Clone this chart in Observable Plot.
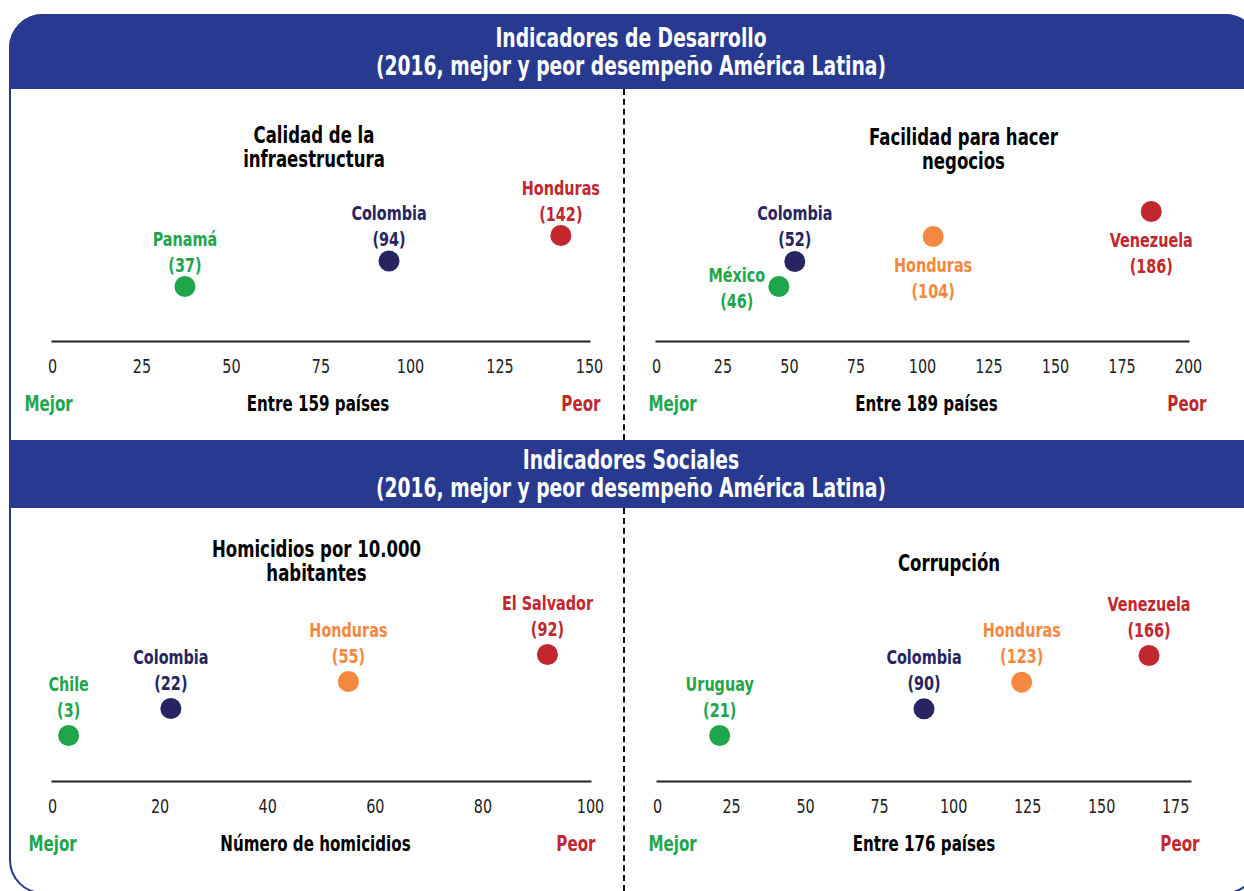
<!DOCTYPE html>
<html>
<head>
<meta charset="utf-8">
<script src="https://cdn.jsdelivr.net/npm/d3@7"></script>
<script src="https://cdn.jsdelivr.net/npm/@observablehq/plot@0.6"></script>
<style>
  html, body { margin: 0; padding: 0; background: #fff; }
  #root { position: relative; width: 1244px; height: 891px; overflow: hidden; background: #fff;
          font-family: "Liberation Sans Narrow", "Arial Narrow", "DejaVu Sans Condensed", sans-serif; }
  .frame { position: absolute; left: 9px; top: 14px; width: 1250px; height: 880px;
           border: 2px solid #283a8f; border-radius: 34px; box-sizing: border-box; }
  .hdr { position: absolute; left: 9px; width: 1250px; background: #283a8f; color: #fff;
         display: flex; align-items: center; justify-content: flex-start; }
  .hdr div { width: 1244px; text-align: center; font-weight: bold; font-size: 26px; line-height: 28px;
             transform: scaleX(0.8); transform-origin: 50% 50%; }
  .divider { position: absolute; left: 623px; width: 0; border-left: 2px dashed #111; }
  .panel { position: absolute; }
</style>
</head>
<body>
<div id="root">
  <div class="frame"></div>
  <div class="hdr" style="top:14px;height:75px;border-radius:34px 34px 0 0;">
    <div id="h1"></div>
  </div>
  <div class="hdr" style="top:440px;height:68px;">
    <div id="h2"></div>
  </div>
  <div class="divider" style="top:89px;height:351px;"></div>
  <div class="divider" style="top:508px;height:383px;"></div>
  <div class="panel" id="p1" style="left:0px;top:89px;"></div>
  <div class="panel" id="p2" style="left:626px;top:89px;"></div>
  <div class="panel" id="p3" style="left:0px;top:508px;"></div>
  <div class="panel" id="p4" style="left:626px;top:508px;"></div>
</div>
<script>
// ---- Data ----
const header1 = ["Indicadores de Desarrollo", "(2016, mejor y peor desempeño América Latina)"];
const header2 = ["Indicadores Sociales", "(2016, mejor y peor desempeño América Latina)"];

const infraTitle = "Calidad de la\ninfraestructura";
const infraCountries = ["Panamá", "Colombia", "Honduras"];
const infraValues = [37, 94, 142];
const infraTicks = [0, 25, 50, 75, 100, 125, 150];
const infraAxisLabel = "Entre 159 países";

const negociosTitle = "Facilidad para hacer\nnegocios";
const negociosCountries = ["México", "Colombia", "Honduras", "Venezuela"];
const negociosValues = [46, 52, 104, 186];
const negociosTicks = [0, 25, 50, 75, 100, 125, 150, 175, 200];
const negociosAxisLabel = "Entre 189 países";

const homicTitle = "Homicidios por 10.000\nhabitantes";
const homicCountries = ["Chile", "Colombia", "Honduras", "El Salvador"];
const homicValues = [3, 22, 55, 92];
const homicTicks = [0, 20, 40, 60, 80, 100];
const homicAxisLabel = "Número de homicidios";

const corrTitle = "Corrupción";
const corrCountries = ["Uruguay", "Colombia", "Honduras", "Venezuela"];
const corrValues = [21, 90, 123, 166];
const corrTicks = [0, 25, 50, 75, 100, 125, 150, 175];
const corrAxisLabel = "Entre 176 países";

const bestLabel = "Mejor";
const worstLabel = "Peor";

// ---- Style ----
const GREEN = "#1fa64b", NAVY = "#262561", ORANGE = "#f58840", RED = "#c1272d";
const FONT = "'Liberation Sans Narrow', 'Arial Narrow', 'DejaVu Sans Condensed', sans-serif";
const SQUEEZE = 0.8; // horizontal condensing of text glyphs

document.getElementById("h1").innerHTML = header1.join("<br>");
document.getElementById("h2").innerHTML = header2.join("<br>");

function colorFor(d, n) {
  if (d.i === 0) return GREEN;
  if (d.i === n - 1) return RED;
  if (d.country === "Colombia") return NAVY;
  return ORANGE;
}

function condense(svg) {
  svg.querySelectorAll("text").forEach(t => {
    const tr = t.getAttribute("transform");
    if (tr) {
      t.setAttribute("transform", `${tr} scale(${SQUEEZE},1)`);
    } else {
      const x = +(t.getAttribute("x") || 0), y = +(t.getAttribute("y") || 0);
      t.setAttribute("transform", `translate(${x},${y}) scale(${SQUEEZE},1) translate(${-x},${-y})`);
    }
  });
  return svg;
}

function panel(cfg) {
  const n = cfg.countries.length;
  const data = cfg.countries.map((c, i) => ({country: c, value: cfg.values[i], i}));
  data.forEach(d => d.color = colorFor(d, n));
  const lab = d => `${d.country}\n(${d.value})`;
  const labelMarks = [];
  const groups = {
    top: {dx: 0, dy: cfg.topDy, textAnchor: "middle"},
    bottom: {dx: 0, dy: 40, textAnchor: "middle"},
    left: {dx: -42, dy: 0, textAnchor: "middle"}
  };
  for (const [key, o] of Object.entries(groups)) {
    const sub = data.filter((d, i) => cfg.place[i] === key);
    if (!sub.length) continue;
    labelMarks.push(Plot.text(sub, {
      x: "value", y: "i", text: lab, fill: d => d.color,
      fontWeight: "bold", fontSize: 20, lineHeight: 1.3, lineAnchor: "middle",
      textAnchor: o.textAnchor, dx: o.dx, dy: o.dy
    }));
  }
  const svg = Plot.plot({
    width: cfg.width, height: cfg.height,
    marginLeft: cfg.ml, marginRight: cfg.mr, marginTop: 0, marginBottom: cfg.mb,
    style: {fontFamily: FONT, background: "transparent", overflow: "visible"},
    x: {domain: cfg.domain, label: null},
    y: {domain: [0, n - 1], range: cfg.yRange, axis: null},
    color: {type: "identity"},
    marks: [
      Plot.frame({anchor: "bottom", stroke: "#222", strokeWidth: 2}),
      Plot.axisX({ticks: cfg.ticks, tickSize: 0, tickPadding: 17, fontSize: 20,
                  tickFormat: d => String(d), fill: "#222", label: null}),
      Plot.dot(data, {x: "value", y: "i", r: 10.5, fill: d => d.color}),
      ...labelMarks,
      Plot.text([cfg.title], {frameAnchor: "top", text: d => d, dx: cfg.titleDx, dy: cfg.titleDy,
                 fontWeight: "bold", fontSize: 23, lineHeight: 1.05, lineAnchor: "middle", fill: "#000"}),
      Plot.text([bestLabel], {frameAnchor: "bottom-left", text: d => d, dx: cfg.bestDx, dy: 63,
                 textAnchor: "start", fontWeight: "bold", fontSize: 21, fill: GREEN, lineAnchor: "middle"}),
      Plot.text([cfg.axisLabel], {frameAnchor: "bottom", text: d => d, dx: cfg.labelDx, dy: 63,
                 fontWeight: "bold", fontSize: 21, fill: "#000", lineAnchor: "middle"}),
      Plot.text([worstLabel], {frameAnchor: "bottom-right", text: d => d, dx: cfg.worstDx, dy: 63,
                 textAnchor: "end", fontWeight: "bold", fontSize: 21, fill: RED, lineAnchor: "middle"})
    ]
  });
  return condense(svg);
}

document.getElementById("p1").append(panel({
  countries: infraCountries, values: infraValues, ticks: infraTicks, title: infraTitle, axisLabel: infraAxisLabel,
  width: 622, height: 351, ml: 52, mr: 33, mb: 99, domain: [0, 150], yRange: [197, 146],
  place: ["top", "top", "top"], topDy: -36,
  titleDx: -7, titleDy: 58, bestDx: -28, labelDx: -3, worstDx: 11
}));
document.getElementById("p2").append(panel({
  countries: negociosCountries, values: negociosValues, ticks: negociosTicks, title: negociosTitle, axisLabel: negociosAxisLabel,
  width: 618, height: 351, ml: 30, mr: 56, mb: 99, domain: [0, 200], yRange: [197, 122],
  place: ["left", "top", "bottom", "bottom"], topDy: -37,
  titleDx: 41, titleDy: 60, bestDx: -8, labelDx: 4, worstDx: 18
}));
document.getElementById("p3").append(panel({
  countries: homicCountries, values: homicValues, ticks: homicTicks, title: homicTitle, axisLabel: homicAxisLabel,
  width: 622, height: 383, ml: 52, mr: 32, mb: 110, domain: [0, 100], yRange: [227, 146],
  place: ["top", "top", "top", "top"], topDy: -40,
  titleDx: -5, titleDy: 53, bestDx: -24, labelDx: -6, worstDx: 5
}));
document.getElementById("p4").append(panel({
  countries: corrCountries, values: corrValues, ticks: corrTicks, title: corrTitle, axisLabel: corrAxisLabel,
  width: 618, height: 383, ml: 31, mr: 54, mb: 110, domain: [0, 180], yRange: [227, 147],
  place: ["top", "top", "top", "top"], topDy: -40,
  titleDx: 25, titleDy: 55, bestDx: -9, labelDx: 0, worstDx: 9
}));
</script>
</body>
</html>
